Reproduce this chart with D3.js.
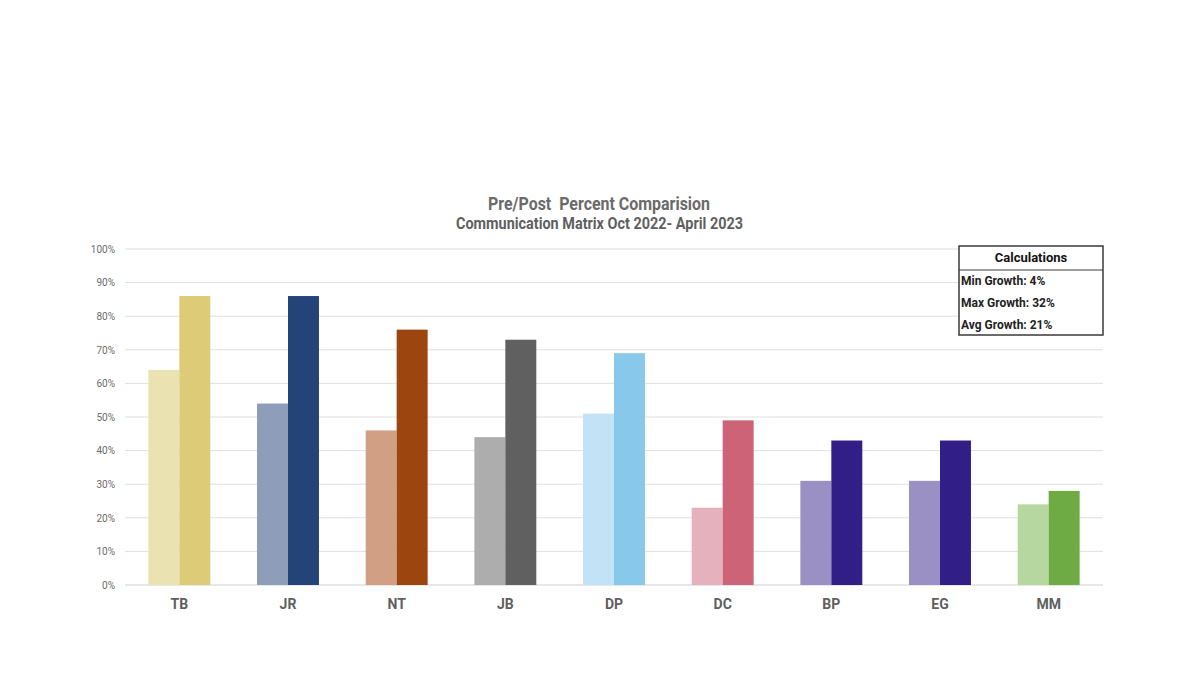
<!DOCTYPE html>
<html>
<head>
<meta charset="utf-8">
<script src="https://cdn.jsdelivr.net/npm/d3@7"></script>
<style>
  html, body { margin: 0; padding: 0; background: #ffffff; }
  svg { display: block; }
</style>
</head>
<body>
<svg id="chart" width="1200" height="675"></svg>
<script>
const categories = ["TB", "JR", "NT", "JB", "DP", "DC", "BP", "EG", "MM"];
const preValues  = [64, 54, 46, 44, 51, 23, 31, 31, 24];
const postValues = [86, 86, 76, 73, 69, 49, 43, 43, 28];
const preColors  = ["#EAE2B0", "#8E9EB8", "#D1A084", "#ADADAD", "#C2E2F5", "#E5B1BD", "#9A90C4", "#9A90C4", "#B7D7A0"];
const postColors = ["#DECB77", "#244378", "#9C450F", "#606060", "#88C9EB", "#CD6377", "#311F87", "#311F87", "#6FAB45"];
const yTicks = [0, 10, 20, 30, 40, 50, 60, 70, 80, 90, 100];
const titleLines = ["Pre/Post  Percent Comparision", "Communication Matrix Oct 2022- April 2023"];
const calcLines = ["Min Growth: 4%", "Max Growth: 32%", "Avg Growth: 21%"];

(function () {
const font = "'Roboto', 'Liberation Sans', sans-serif";
const svg = d3.select("#chart");

const plotLeft = 125, plotRight = 1103, plotTop = 249, plotBottom = 585;

const x = d3.scaleBand().domain(categories).range([plotLeft, plotRight])
  .paddingInner(0.43).paddingOuter(0.215);
const series = d3.scaleBand().domain(["pre", "post"]).range([0, x.bandwidth()]);
const y = d3.scaleLinear().domain([0, 100]).range([plotBottom, plotTop]);

// gridlines
svg.append("g").selectAll("line").data(yTicks).join("line")
  .attr("x1", plotLeft).attr("x2", plotRight)
  .attr("y1", d => y(d)).attr("y2", d => y(d))
  .attr("stroke", d => d === 0 ? "#cfcfcf" : "#e0e0e0")
  .attr("stroke-width", 1);

// y axis labels
const yAxis = d3.axisLeft(y).tickValues(yTicks).tickFormat(d => d + "%").tickSize(0).tickPadding(10);
const yg = svg.append("g").attr("transform", `translate(${plotLeft},0)`).call(yAxis);
yg.select(".domain").remove();
yg.selectAll("text").attr("font-family", font)
  .attr("font-size", 10).attr("fill", "#6b6b6b");

// bars
const groups = svg.append("g").selectAll("g").data(categories).join("g")
  .attr("transform", d => `translate(${x(d)},0)`);
groups.append("rect")
  .attr("x", series("pre")).attr("width", series.bandwidth())
  .attr("y", (d, i) => y(preValues[i])).attr("height", (d, i) => y(0) - y(preValues[i]))
  .attr("fill", (d, i) => preColors[i]);
groups.append("rect")
  .attr("x", series("post")).attr("width", series.bandwidth())
  .attr("y", (d, i) => y(postValues[i])).attr("height", (d, i) => y(0) - y(postValues[i]))
  .attr("fill", (d, i) => postColors[i]);

// x axis labels
const xAxis = d3.axisBottom(x).tickSize(0).tickPadding(14);
const xg = svg.append("g").attr("transform", `translate(0,${plotBottom})`).call(xAxis);
xg.select(".domain").remove();
xg.selectAll("text").attr("font-family", font).attr("font-size", 14)
  .attr("font-weight", "bold").attr("fill", "#5f5f5f");

// title
svg.append("text").attr("x", 599).attr("y", 210).attr("text-anchor", "middle")
  .attr("font-family", font).attr("font-size", 18).attr("font-weight", "bold")
  .attr("fill", "#6a6a6a").attr("xml:space", "preserve")
  .attr("textLength", 222).attr("lengthAdjust", "spacingAndGlyphs").text(titleLines[0]);
svg.append("text").attr("x", 599.5).attr("y", 229).attr("text-anchor", "middle")
  .attr("font-family", font).attr("font-size", 16).attr("font-weight", "bold")
  .attr("fill", "#5f5f5f")
  .attr("textLength", 287).attr("lengthAdjust", "spacingAndGlyphs").text(titleLines[1]);

// calculations box
const bx = 959, by = 246, bw = 144, bh = 89;
const box = svg.append("g");
box.append("rect").attr("x", bx).attr("y", by).attr("width", bw).attr("height", bh)
  .attr("fill", "#ffffff").attr("stroke", "#3a3a3a").attr("stroke-width", 1.5);
box.append("line").attr("x1", bx).attr("x2", bx + bw).attr("y1", by + 24).attr("y2", by + 24)
  .attr("stroke", "#3a3a3a").attr("stroke-width", 1.2);
box.append("text").attr("x", bx + bw / 2).attr("y", by + 16).attr("text-anchor", "middle")
  .attr("font-family", font).attr("font-size", 13).attr("font-weight", "bold")
  .attr("fill", "#111").text("Calculations");
box.selectAll("text.row").data(calcLines).join("text").attr("class", "row")
  .attr("x", bx + 2).attr("y", (d, i) => by + 39 + i * 22)
  .attr("font-family", font).attr("font-size", 12).attr("font-weight", "bold")
  .attr("fill", "#222").text(d => d);
})();
</script>
</body>
</html>
